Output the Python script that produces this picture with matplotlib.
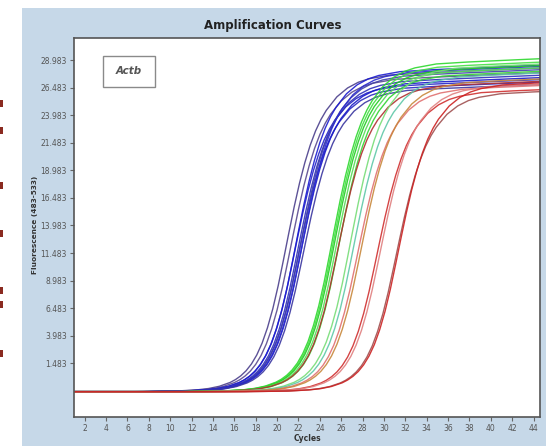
# Amplification Curves (Actb) - qPCR Kurven nachgebaut
# -----------------------------------------------------------------------------

import numpy as np
import matplotlib
matplotlib.use("Agg")
import matplotlib.pyplot as plt
from matplotlib.patches import Rectangle

# Daten
# -----------------------------------------------------------------------------

# Abstand zum Ct in Zyklen und Anteil des Anstiegs bis zum Plateau
profile_dt = [-31, -14, -10, -8, -7, -6, -5, -4.5, -4, -3.5, -3, -2.5, -2,
              -1.5, -1, -0.5, 0, 0.5, 1, 1.5, 2, 2.5, 3, 3.5, 4, 5, 6, 7, 8,
              10, 13, 18, 25]
profile_f = [0.0, 0.0, 0.002, 0.006, 0.010, 0.017, 0.029, 0.038, 0.050,
             0.066, 0.0875, 0.116, 0.1535, 0.202, 0.262, 0.3345, 0.417,
             0.502, 0.5845, 0.6595, 0.7245, 0.7795, 0.8245, 0.8605, 0.8895,
             0.9325, 0.9605, 0.9785, 0.9895, 1.0015, 1.0075, 1.015, 1.025]
baseline = -1.1

# blaue Gruppe
blue_ct = [20.6, 21.0, 21.4, 21.5, 21.7, 21.8, 21.9, 22.0, 22.1, 22.2]
blue_top = [27.6, 27.2, 26.6, 27.9, 27.0, 26.4, 27.5, 26.8, 27.8, 26.2]
blue_col = ["#4b3f8c", "#5a4a90", "#2424c8", "#1c1cd0", "#3030b8",
            "#2828c0", "#4040a8", "#1818c8", "#2b2bd0", "#3a36a0"]

# gruene Gruppe
green_ct = [24.9, 25.0, 25.1, 25.3, 25.5]
green_top = [28.6, 28.3, 28.0, 27.8, 27.5]
green_col = ["#2ed82e", "#44e044", "#22cc22", "#55dd55", "#33d433"]

# rote / sonstige Kurven
other_ct = [25.4, 26.6, 26.9, 27.3, 27.6, 29.1, 29.4, 30.9, 31.1]
other_top = [26.6, 28.2, 27.4, 26.3, 26.9, 26.0, 26.5, 25.9, 26.7]
other_col = ["#b03030", "#77dd77", "#5fc8a8", "#e07070", "#c8883c",
             "#d03030", "#e08080", "#a05050", "#cc2222"]

x_ticks = list(range(2, 46, 2))
y_ticks = [1.483, 3.983, 6.483, 8.983, 11.483, 13.983, 16.483, 18.983,
           21.483, 23.983, 26.483, 28.983]

# rote Reste am linken Bildrand (Pixel-y)
edge_marks = [103, 130, 185, 233, 290, 304, 353]


# Funktionen
# -----------------------------------------------------------------------------

def draw_curves(ax, cts, tops, colors):
    """
    Zeichnet je Kurve das Profil, verschoben um den Ct-Wert und
    skaliert auf das Plateau.
    """
    dt = np.array(profile_dt)
    f = np.array(profile_f)
    for ct, top, col in zip(cts, tops, colors):
        ax.plot(ct + dt, baseline + f * (top - baseline), color=col, lw=1.0,
                alpha=0.9, solid_capstyle="round")


# Plot
# -----------------------------------------------------------------------------

W, H = 546, 446
fig = plt.figure(figsize=(W / 100, H / 100), dpi=100)
fig.patch.set_facecolor("white")

# Hintergrund-Achse fuer das hellblaue Panel
bg = fig.add_axes([0, 0, 1, 1], zorder=0)
bg.set_xlim(0, W)
bg.set_ylim(H, 0)
bg.axis("off")
bg.add_patch(Rectangle((22, 8), W - 22, H - 8, facecolor="#c6d8e8", edgecolor="none"))
for y in edge_marks:
    bg.add_patch(Rectangle((0, y - 3), 3, 7, facecolor="#8a2a20", edgecolor="none"))

ax = fig.add_axes([74 / W, 1 - 417 / H, (540 - 74) / W, (417 - 38) / H], zorder=2)
ax.set_facecolor("white")

draw_curves(ax, blue_ct, blue_top, blue_col)
draw_curves(ax, green_ct, green_top, green_col)
draw_curves(ax, other_ct, other_top, other_col)

ax.set_xlim(1, 44.6)
ax.set_ylim(-3.4, 31.0)
ax.set_xticks(x_ticks)
ax.set_xticklabels([str(t) for t in x_ticks])
ax.set_yticks(y_ticks)
ax.set_yticklabels([f"{t:.3f}" for t in y_ticks])
ax.tick_params(direction="out", length=3, width=0.8, color="#666666",
               labelsize=5.5, labelcolor="#555555", pad=2)
for s in ax.spines.values():
    s.set_color("#555555")
    s.set_linewidth(1.2)

ax.set_xlabel("Cycles", fontsize=5.5, fontweight="bold", color="#333333", labelpad=1)
bg.text(35, 225, "Fluorescence (483-533)", rotation=90,
        fontsize=5.3, fontweight="bold", color="#333333", ha="center", va="center")
bg.text(273, 25, "Amplification Curves", fontsize=8.5,
        fontweight="heavy", color="#222222", ha="center", va="center")

# Beschriftungsbox "Actb"
ax.add_patch(Rectangle((0.062, 0.871), 0.112, 0.082, transform=ax.transAxes,
                       facecolor="white", edgecolor="#8a8a8a", lw=1.0, zorder=5))
ax.text(0.118, 0.912, "Actb", transform=ax.transAxes, fontsize=7.5,
        style="italic", fontweight="bold", color="#555555",
        ha="center", va="center", zorder=6)

fig.savefig("out.png", dpi=100)
